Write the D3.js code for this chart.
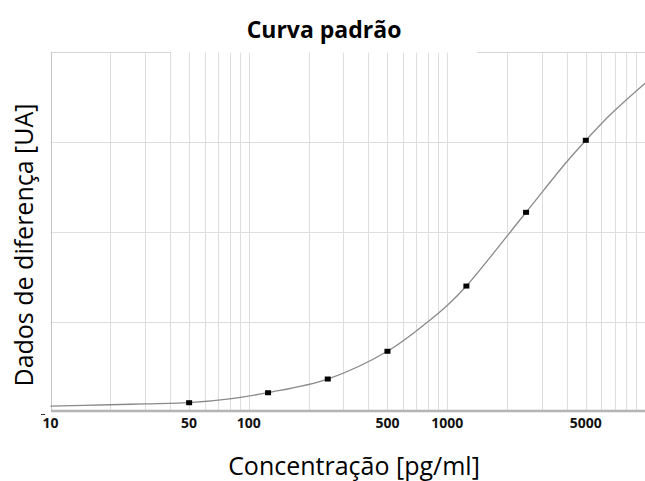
<!DOCTYPE html>
<html lang="pt">
<head>
    <meta charset="UTF-8">
    <title>Curva padrão</title>
    <style>
        body { margin: 0; background: #fff; }
        text { font-family: "Open Sans", sans-serif; }
    </style>
    <script src="https://d3js.org/d3.v7.min.js"></script>
</head>
<body>
<script>
// standard points (concentration pg/ml, difference data)
const stdConc = [50, 125, 250, 500, 1250, 2500, 5000];
const stdValue = [0.098, 0.209, 0.362, 0.671, 1.398, 2.219, 3.022];

// fitted curve
const curveConc = [10, 20, 30, 50, 80, 125, 250, 500, 800, 1000, 1250, 2500, 4000, 5000, 6600, 10000];
const curveValue = [0.06, 0.075, 0.085, 0.098, 0.14, 0.21, 0.362, 0.671, 1.0, 1.18, 1.398, 2.22, 2.78, 3.02, 3.30, 3.66];

const xTickLabels = [10, 50, 100, 500, 1000, 5000];
const yGridValues = [1, 2, 3];

const W = 645, H = 481;

var svg = d3.select("body").append("svg")
    .attr("width", W)
    .attr("height", H);

svg.append("rect").attr("width", W).attr("height", H).attr("fill", "#fff");

var x = d3.scaleLog().domain([10, 10000]).range([50.5, 645.5]);
var y = d3.scaleLinear().domain([0, 4]).range([411.5, 52.5]);

//vertical grid, one line per 1..9 of each decade
svg.append("g").selectAll("line")
    .data(x.ticks())
    .enter().append("line")
    .attr("x1", d => Math.round(x(d)) + 0.5)
    .attr("x2", d => Math.round(x(d)) + 0.5)
    .attr("y1", y(4))
    .attr("y2", y(0))
    .attr("stroke", "#dedede")
    .attr("stroke-width", 1);

//horizontal grid
svg.append("g").selectAll("line")
    .data(yGridValues)
    .enter().append("line")
    .attr("x1", x(10))
    .attr("x2", W)
    .attr("y1", d => Math.round(y(d)) + 0.5)
    .attr("y2", d => Math.round(y(d)) + 0.5)
    .attr("stroke", "#dedede")
    .attr("stroke-width", 1);

//top border, broken where the title box sits
[[x(10), 171], [477, W]].forEach(function (seg) {
    svg.append("line")
        .attr("x1", seg[0]).attr("x2", seg[1])
        .attr("y1", 52.5).attr("y2", 52.5)
        .attr("stroke", "#d6d6d6");
});

//left border
svg.append("line")
    .attr("x1", 51.5).attr("x2", 51.5)
    .attr("y1", 52).attr("y2", 411)
    .attr("stroke", "#c4c4c4");

//bottom axis line
svg.append("line")
    .attr("x1", 51).attr("x2", W)
    .attr("y1", 411).attr("y2", 411)
    .attr("stroke", "#b4b4b4")
    .attr("stroke-width", 2.5);

// little dash left of the "10"
svg.append("line")
    .attr("x1", 41).attr("x2", 45)
    .attr("y1", 414.5).attr("y2", 414.5)
    .attr("stroke", "#333");

// x tick labels
svg.append("g").selectAll("text")
    .data(xTickLabels)
    .enter().append("text")
    .attr("x", d => x(d))
    .attr("y", 428)
    .attr("text-anchor", "middle")
    .style("font-size", "14px")
    .style("font-weight", "bold")
    .attr("fill", "#111")
    .text(d => d);

// fitted curve
var curveData = curveConc.map((c, i) => [c, curveValue[i]]);
var line = d3.line()
    .x(d => x(d[0]))
    .y(d => y(d[1]))
    .curve(d3.curveCatmullRom.alpha(0.5));

svg.append("path")
    .datum(curveData)
    .attr("d", line)
    .attr("fill", "none")
    .attr("stroke", "#8a8a8a")
    .attr("stroke-width", 1.3);

// standard points as small squares
svg.append("g").selectAll("rect")
    .data(stdConc.map((c, i) => [c, stdValue[i]]))
    .enter().append("rect")
    .attr("x", d => x(d[0]) - 3)
    .attr("y", d => y(d[1]) - 2.5)
    .attr("width", 6)
    .attr("height", 5)
    .attr("fill", "#000");

// title
svg.append("text")
    .attr("x", 324)
    .attr("y", 38)
    .attr("text-anchor", "middle")
    .style("font-size", "23px")
    .style("font-weight", "bold")
    .text("Curva padrão");

// axis titles
svg.append("text")
    .attr("x", 354)
    .attr("y", 475)
    .attr("text-anchor", "middle")
    .style("font-size", "25px")
    .text("Concentração [pg/ml]");

svg.append("text")
    .attr("transform", "translate(33,245) rotate(-90)")
    .attr("text-anchor", "middle")
    .style("font-size", "25px")
    .text("Dados de diferença [UA]");
</script>
</body>
</html>
